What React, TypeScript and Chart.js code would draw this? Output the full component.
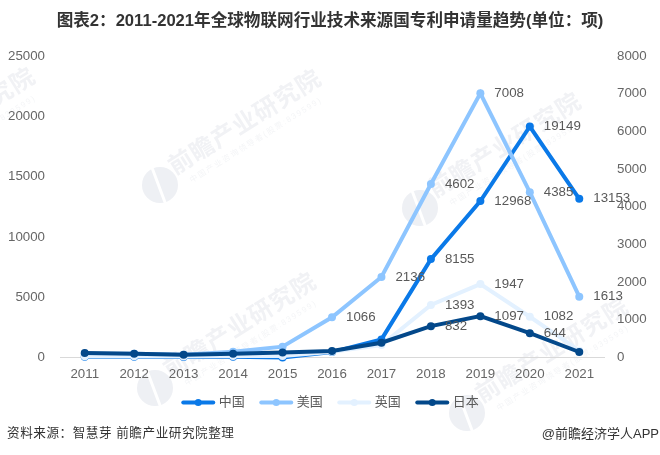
import React, { useEffect, useRef } from "react";
import { Chart, registerables } from "chart.js";

Chart.register(...registerables);

const years = ["2011", "2012", "2013", "2014", "2015", "2016", "2017", "2018", "2019", "2020", "2021"];
const china = [60, 60, 40, 60, 10, 450, 1500, 8155, 12968, 19149, 13153];
const usa = [100, 100, 70, 150, 287, 1066, 2136, 4602, 7008, 4385, 1613];
const uk = [30, 30, 25, 40, 40, 150, 330, 1393, 1947, 1082, 180];
const japan = [120, 100, 75, 100, 130, 170, 393, 832, 1097, 644, 146];

// which years carry a value label, per series
const chinaLabelled = ["2018", "2019", "2020", "2021"];
const usaLabelled = ["2016", "2017", "2018", "2019", "2020", "2021"];
const ukLabelled = ["2018", "2019", "2020"];
const japanLabelled = ["2018", "2019", "2020"];

const titleText = "图表2：2011-2021年全球物联网行业技术来源国专利申请量趋势(单位：项)";
const sourceText = "资料来源：智慧芽 前瞻产业研究院整理";
const brandText = "@前瞻经济学人APP";
const wmMain = "前瞻产业研究院";
const wmSub = "中国产业咨询领导者(股票:839599)";
const wmLogos = [
  [-126, 183],
  [160, 185],
  [420, 208],
  [155, 388],
  [467, 413],
];

const FONT = '"Liberation Sans", "Noto Sans CJK SC", sans-serif';

const watermarkPlugin = {
  id: "watermark",
  beforeDraw(chart: any) {
    const ctx = chart.ctx;
    wmLogos.forEach(([x, y]) => {
      ctx.save();
      ctx.translate(x, y);
      ctx.fillStyle = "#eef0f4";
      ctx.beginPath();
      ctx.arc(0, 0, 18, 0, Math.PI * 2);
      ctx.fill();
      ctx.strokeStyle = "#ffffff";
      ctx.lineWidth = 3;
      ctx.beginPath();
      ctx.moveTo(-9, -20);
      ctx.lineTo(6, 20);
      ctx.stroke();
      ctx.rotate((-32 * Math.PI) / 180);
      ctx.fillStyle = "#f1f2f5";
      ctx.textBaseline = "middle";
      ctx.font = "bold 24px " + FONT;
      ctx.letterSpacing = "1px";
      ctx.fillText(wmMain, 18, -7);
      ctx.fillStyle = "#f4f5f7";
      ctx.font = "8px " + FONT;
      ctx.letterSpacing = "1.6px";
      ctx.fillText(wmSub, 28, 13);
      ctx.restore();
    });
  },
};

const valueLabelPlugin = {
  id: "valueLabels",
  afterDatasetsDraw(chart: any) {
    const ctx = chart.ctx;
    ctx.save();
    ctx.font = "13.3px " + FONT;
    ctx.fillStyle = "#595959";
    ctx.textBaseline = "middle";
    chart.data.datasets.forEach((ds: any, i: number) => {
      const meta = chart.getDatasetMeta(i);
      ds.labelled.forEach((year: string) => {
        const idx = years.indexOf(year);
        const pt = meta.data[idx];
        ctx.fillText(String(ds.data[idx]), pt.x + 14, pt.y);
      });
    });
    ctx.restore();
  },
};

const legendAndFooterPlugin = {
  id: "legendAndFooter",
  afterDraw(chart: any) {
    const ctx = chart.ctx;
    ctx.save();
    // legend swatches: rounded line with a dot in the middle
    chart.legend.legendHitBoxes.forEach((box: any, i: number) => {
      const color = chart.data.datasets[i].borderColor;
      const y = box.top + box.height / 2;
      ctx.strokeStyle = color;
      ctx.fillStyle = color;
      ctx.lineWidth = 4;
      ctx.lineCap = "round";
      ctx.beginPath();
      ctx.moveTo(box.left + 2, y);
      ctx.lineTo(box.left + 32, y);
      ctx.stroke();
      ctx.beginPath();
      ctx.arc(box.left + 17, y, 3.5, 0, Math.PI * 2);
      ctx.fill();
    });
    ctx.fillStyle = "#333333";
    ctx.textBaseline = "middle";
    ctx.font = "12.6px " + FONT;
    ctx.textAlign = "left";
    ctx.letterSpacing = "0.55px";
    ctx.fillText(sourceText, 7, 434);
    ctx.letterSpacing = "0px";
    ctx.font = "13px " + FONT;
    ctx.textAlign = "right";
    ctx.fillText(brandText, 659, 434);
    ctx.restore();
  },
};

const line = (label: string, data: number[], color: string, yAxisID: string, order: number, labelled: string[]) => ({
  label,
  data,
  labelled,
  yAxisID,
  order,
  borderColor: color,
  backgroundColor: color,
  borderWidth: 4,
  pointRadius: 4,
  pointBackgroundColor: color,
  pointBorderWidth: 0,
  tension: 0,
  clip: false,
});

const plainTick = (v: any) => String(v);

const App = () => {
  const canvasRef: any = useRef(null);

  useEffect(() => {
    const chart = new Chart(canvasRef.current, {
      type: "line",
      data: {
        labels: years,
        datasets: [
          line("中国", china, "#0a79e8", "y", 4, chinaLabelled),
          line("美国", usa, "#8dc5ff", "y1", 3, usaLabelled),
          line("英国", uk, "#e3f1ff", "y1", 2, ukLabelled),
          line("日本", japan, "#03488a", "y1", 1, japanLabelled),
        ] as any,
      },
      plugins: [watermarkPlugin, valueLabelPlugin, legendAndFooterPlugin],
      options: {
        responsive: false,
        animation: false,
        devicePixelRatio: 1,
        layout: { padding: { top: 0, left: 0, right: 0, bottom: 36 } },
        plugins: {
          tooltip: { enabled: false },
          title: {
            display: true,
            text: titleText,
            color: "#333333",
            font: { family: FONT, size: 16.6, weight: "bold" },
            padding: { top: 11, bottom: 25 },
          },
          legend: {
            position: "bottom",
            labels: {
              boxWidth: 31,
              boxHeight: 4,
              padding: 14.5,
              color: "#595959",
              font: { family: FONT, size: 13 },
              sort: (a: any, b: any) => a.datasetIndex - b.datasetIndex,
              generateLabels: (c: any) =>
                Chart.defaults.plugins.legend.labels.generateLabels(c).map((l: any) => ({
                  ...l,
                  fillStyle: "rgba(0,0,0,0)",
                  strokeStyle: "rgba(0,0,0,0)",
                  lineWidth: 0,
                })),
            },
          },
        },
        scales: {
          x: {
            offset: true,
            afterFit: (s: any) => {
              s.height = 24;
            },
            grid: { display: false },
            border: { display: true, color: "#d9d9d9", width: 1 },
            ticks: { color: "#666666", padding: 1, font: { family: FONT, size: 13.3 }, maxRotation: 0 },
          },
          y: {
            min: 0,
            max: 25000,
            position: "left",
            afterFit: (s: any) => {
              s.width = 60;
            },
            grid: { display: false },
            border: { display: false },
            ticks: { stepSize: 5000, color: "#666666", padding: 7, font: { family: FONT, size: 13.3 }, callback: plainTick },
          },
          y1: {
            min: 0,
            max: 8000,
            position: "right",
            afterFit: (s: any) => {
              s.width = 56;
            },
            grid: { display: false },
            border: { display: false },
            ticks: { stepSize: 1000, color: "#666666", padding: 5, font: { family: FONT, size: 13.3 }, callback: plainTick },
          },
        },
      } as any,
    });

    return () => {
      chart.destroy();
    };
  }, []);

  return (
    <div style={{ position: "absolute", left: 0, top: 0, width: 660, height: 455, background: "#ffffff" }}>
      <canvas ref={canvasRef} width={660} height={455}></canvas>
    </div>
  );
};

export default App;
